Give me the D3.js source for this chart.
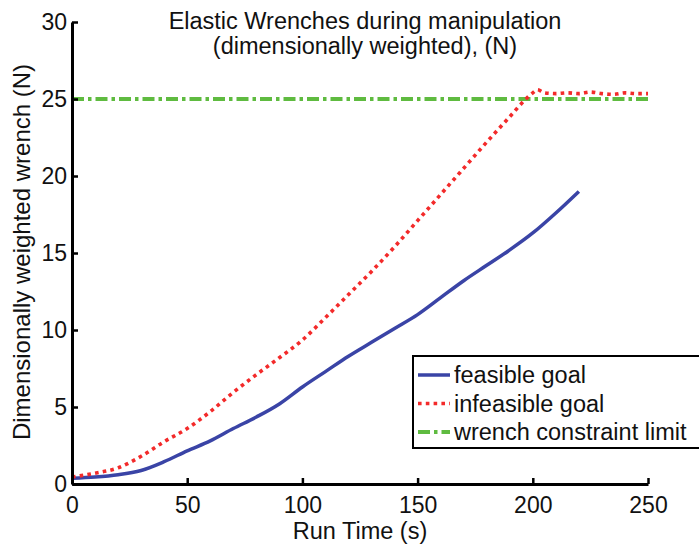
<!DOCTYPE html>
<html>
<head>
<meta charset="utf-8">
<script src="https://cdn.jsdelivr.net/npm/d3@7"></script>
<style>
  body { margin: 0; background: #fff; }
  svg { display: block; font-family: Arial, "Liberation Sans", sans-serif; }
</style>
</head>
<body>
<svg id="chart" width="699" height="545"></svg>
<script>
// run time samples (s) and weighted wrench values (N)
const feasibleTime = [0, 10, 20, 30, 40, 50, 60, 70, 80, 90, 100, 110, 120, 130, 140, 150, 160, 170, 180, 190, 200, 210, 220];
const feasibleWrench = [0.37, 0.45, 0.6, 0.88, 1.45, 2.15, 2.8, 3.6, 4.35, 5.2, 6.3, 7.3, 8.3, 9.2, 10.1, 11.0, 12.1, 13.2, 14.2, 15.2, 16.3, 17.6, 19.0];

const infeasibleTime = [0, 10, 20, 30, 40, 50, 60, 70, 80, 90, 100, 110, 120, 130, 140, 150, 160, 170, 180, 190, 197, 200, 202, 205, 210, 215, 220, 225, 230, 235, 240, 245, 250];
const infeasibleWrench = [0.45, 0.7, 1.05, 1.8, 2.75, 3.6, 4.7, 5.95, 7.1, 8.2, 9.35, 10.8, 12.3, 13.8, 15.4, 17.1, 18.8, 20.5, 22.2, 23.85, 25.0, 25.4, 25.6, 25.4, 25.35, 25.4, 25.35, 25.45, 25.35, 25.3, 25.4, 25.35, 25.35];

const limitTime = [0, 250];
const limitWrench = [25, 25];

const xTicks = [0, 50, 100, 150, 200, 250];
const yTicks = [0, 5, 10, 15, 20, 25, 30];

const titleLines = ["Elastic Wrenches during manipulation", "(dimensionally weighted), (N)"];
const legendLabels = ["feasible goal", "infeasible goal", "wrench constraint limit"];

const svg = d3.select("#chart");

const x = d3.scaleLinear().domain([0, 250]).range([72, 648]);
const y = d3.scaleLinear().domain([0, 30]).range([484, 22]);

const series = [
  { t: feasibleTime, v: feasibleWrench, color: "#3a44a6", width: 3.5, dash: null },
  { t: infeasibleTime, v: infeasibleWrench, color: "#f32a2a", width: 3.6, dash: "3.6,4.2" },
  { t: limitTime, v: limitWrench, color: "#5fbb40", width: 4, dash: "12,4,3.5,4" }
];

const line = d3.line()
  .x(d => x(d[0]))
  .y(d => y(d[1]))
  .curve(d3.curveMonotoneX);

// green limit drawn first, then the others
[series[2], series[0], series[1]].forEach(s => {
  svg.append("path")
    .datum(s.t.map((t, i) => [t, s.v[i]]))
    .attr("fill", "none")
    .attr("stroke", s.color)
    .attr("stroke-width", s.width)
    .attr("stroke-dasharray", s.dash)
    .attr("d", line);
});

// axes, ticks pointing inward
const xAxis = svg.append("g")
  .attr("transform", `translate(0,${y(0)})`)
  .call(d3.axisBottom(x).tickValues(xTicks).tickSizeInner(-6).tickSizeOuter(0).tickPadding(13));
const yAxis = svg.append("g")
  .attr("transform", `translate(${x(0)},0)`)
  .call(d3.axisLeft(y).tickValues(yTicks).tickSizeInner(-6).tickSizeOuter(0).tickPadding(5));

[xAxis, yAxis].forEach(g => {
  g.select(".domain").attr("stroke", "#000").attr("stroke-width", 3);
  g.selectAll(".tick line").attr("stroke", "#000").attr("stroke-width", 2.5);
  g.selectAll(".tick text")
    .attr("fill", "#111")
    .style("font-size", "23px")
    .style("font-family", "Arial, 'Liberation Sans', sans-serif");
});

// title
svg.selectAll(".title")
  .data(titleLines)
  .enter().append("text")
  .attr("class", "title")
  .attr("x", 365)
  .attr("y", (d, i) => 29 + i * 25)
  .attr("text-anchor", "middle")
  .style("font-size", "23.5px")
  .attr("fill", "#111")
  .text(d => d);

// axis labels
svg.append("text")
  .attr("x", 360)
  .attr("y", 539)
  .attr("text-anchor", "middle")
  .style("font-size", "23.5px")
  .attr("fill", "#111")
  .text("Run Time (s)");

svg.append("text")
  .attr("transform", "translate(30,252) rotate(-90)")
  .attr("text-anchor", "middle")
  .style("font-size", "24px")
  .attr("fill", "#111")
  .text("Dimensionally weighted wrench (N)");

// legend
const legend = svg.append("g").attr("transform", "translate(413,356)");
legend.append("rect")
  .attr("width", 300)
  .attr("height", 92)
  .attr("fill", "#fff")
  .attr("stroke", "#000")
  .attr("stroke-width", 2);

series.forEach((s, i) => {
  const ly = 19 + i * 28.5;
  legend.append("line")
    .attr("x1", 5).attr("x2", 37)
    .attr("y1", ly).attr("y2", ly)
    .attr("stroke", s.color)
    .attr("stroke-width", s.width)
    .attr("stroke-dasharray", s.dash);
  legend.append("text")
    .attr("x", 41)
    .attr("y", ly + 8)
    .style("font-size", "23.5px")
    .attr("fill", "#111")
    .text(legendLabels[i]);
});
</script>
</body>
</html>
